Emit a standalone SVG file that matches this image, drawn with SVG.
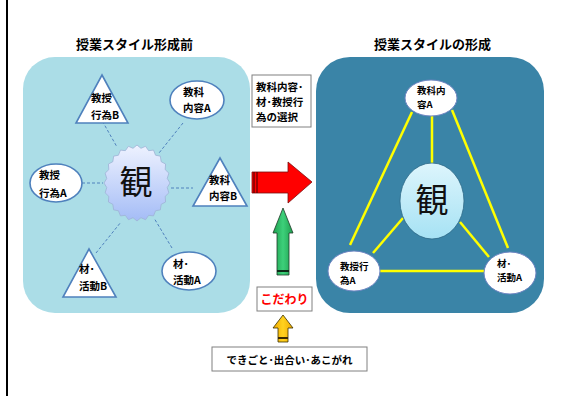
<svg xmlns="http://www.w3.org/2000/svg" width="569" height="396" viewBox="0 0 569 396">
<defs>
<style>
.lbl{font-family:"Noto Sans CJK JP","Noto Sans CJK SC",sans-serif;font-weight:bold;font-size:10.5px;fill:#000}
.lblr{font-family:"Noto Sans CJK JP","Noto Sans CJK SC",sans-serif;font-weight:bold;font-size:9.5px;fill:#000}
.ttl{font-family:"Noto Sans CJK JP","Noto Sans CJK SC",sans-serif;font-weight:bold;font-size:13px;fill:#000;text-anchor:middle}
.kan{font-family:"Noto Sans CJK JP","Noto Sans CJK SC",sans-serif;font-size:33px;fill:#111;text-anchor:middle}
.shp{fill:#fff;stroke:#4F81BD;stroke-width:1.6}
.shpr{fill:#fff;stroke:#6A82C0;stroke-width:1}
.dash{stroke:#4F81BD;stroke-width:1;stroke-dasharray:3 2;fill:none}
.yl{stroke:#FFFF00;stroke-width:2.5;fill:none}
.box{fill:#fff;stroke:#808080;stroke-width:1}
</style>
<linearGradient id="gStar" x1="0" y1="0" x2="0" y2="1">
<stop offset="0" stop-color="#EEF2FF"/>
<stop offset="1" stop-color="#A4BCF6"/>
</linearGradient>
<linearGradient id="gCen" x1="0" y1="0" x2="0" y2="1">
<stop offset="0" stop-color="#DDF5FC"/>
<stop offset="1" stop-color="#A6E2F4"/>
</linearGradient>
<linearGradient id="gGreen" x1="0" y1="0" x2="1" y2="0">
<stop offset="0" stop-color="#1E9E4E"/>
<stop offset="0.5" stop-color="#3DD07A"/>
<stop offset="1" stop-color="#1E9E4E"/>
</linearGradient>
<linearGradient id="gYel" x1="0" y1="0" x2="1" y2="0">
<stop offset="0" stop-color="#F0A800"/>
<stop offset="0.5" stop-color="#FFD21F"/>
<stop offset="1" stop-color="#F0A800"/>
</linearGradient>
</defs>

<rect x="0" y="0" width="569" height="396" fill="#fff"/>
<line x1="7" y1="0" x2="7" y2="396" stroke="#000" stroke-width="2"/>

<g id="title-left"><text class="ttl" x="134.5" y="49">授業スタイル形成前</text></g>
<g id="title-right"><text class="ttl" x="432.5" y="49">授業スタイルの形成</text></g>

<g id="panel-left"><rect x="23" y="57" width="227" height="256" rx="32" fill="#ABDDE7"/></g>
<g id="panel-right"><rect x="316" y="57" width="228" height="256" rx="34" fill="#3A84A7"/></g>

<g id="connectors">
<line class="dash" x1="100" y1="117" x2="117" y2="147"/>
<line class="dash" x1="183" y1="123" x2="159" y2="153"/>
<line class="dash" x1="77" y1="183" x2="103" y2="183"/>
<line class="dash" x1="171" y1="188" x2="193" y2="188"/>
<line class="dash" x1="96" y1="253" x2="121" y2="222"/>
<line class="dash" x1="172" y1="248" x2="154" y2="218"/>
<line class="yl" x1="432" y1="115" x2="432" y2="163" stroke-width="3"/>
<line class="yl" x1="412" y1="112" x2="350" y2="245"/>
<line class="yl" x1="452" y1="110" x2="508" y2="248"/>
<line class="yl" x1="403" y1="218" x2="373" y2="253"/>
<line class="yl" x1="460" y1="222" x2="489" y2="257"/>
<line class="yl" x1="380" y1="271" x2="485" y2="271"/>
</g>

<g id="kan-left">
<path transform="translate(137,183)" fill="url(#gStar)" stroke="#9EB2D6" stroke-width="0.8" d="M33,0 L30.24,4.57 L31.87,9.83 L28.18,13.39 L28.58,19 L24.2,21.31 L23.33,26.87 L18.57,27.77 L16.5,32.91 L11.67,32.34 L8.54,36.7 L3.98,34.7 L0,38 L-3.98,34.7 L-8.54,36.7 L-11.67,32.34 L-16.5,32.91 L-18.57,27.77 L-23.33,26.87 L-24.2,21.31 L-28.58,19 L-28.18,13.39 L-31.87,9.83 L-30.24,4.57 L-33,0 L-30.24,-4.57 L-31.87,-9.83 L-28.18,-13.39 L-28.58,-19 L-24.2,-21.31 L-23.33,-26.87 L-18.57,-27.77 L-16.5,-32.91 L-11.67,-32.34 L-8.54,-36.7 L-3.98,-34.7 L0,-38 L3.98,-34.7 L8.54,-36.7 L11.67,-32.34 L16.5,-32.91 L18.57,-27.77 L23.33,-26.87 L24.2,-21.31 L28.58,-19 L28.18,-13.39 L31.87,-9.83 L30.24,-4.57 Z"/>
<text class="kan" x="136" y="194">観</text>
</g>

<g id="node-jugyo-b">
<polygon class="shp" points="102,75 128,123 76,123"/>
<text class="lbl" x="91" y="102">教授</text>
<text class="lbl" x="91" y="119">行為B</text>
</g>
<g id="node-kyoka-a">
<ellipse class="shp" cx="197" cy="100" rx="27" ry="19"/>
<text class="lbl" x="183" y="96">教科</text>
<text class="lbl" x="183" y="112">内容A</text>
</g>
<g id="node-jugyo-a">
<ellipse class="shp" cx="56" cy="183" rx="26" ry="19"/>
<text class="lbl" x="39" y="179">教授</text>
<text class="lbl" x="39" y="197">行為A</text>
</g>
<g id="node-kyoka-b">
<polygon class="shp" points="220,158 247,206 193,206"/>
<text class="lbl" x="209" y="184">教科</text>
<text class="lbl" x="209" y="200">内容B</text>
</g>
<g id="node-zai-b">
<polygon class="shp" points="89,249 116,297 63,297"/>
<text class="lbl" x="79" y="273">材･</text>
<text class="lbl" x="79" y="290">活動B</text>
</g>
<g id="node-zai-a">
<ellipse class="shp" cx="189" cy="271" rx="27" ry="19"/>
<text class="lbl" x="173" y="268">材･</text>
<text class="lbl" x="173" y="284">活動A</text>
</g>

<g id="box-select">
<rect class="box" x="252" y="75" width="59" height="52"/>
<text class="lbl" x="256" y="91" font-size="10">教科内容･</text>
<text class="lbl" x="256" y="106" font-size="10">材･教授行</text>
<text class="lbl" x="256" y="121" font-size="10">為の選択</text>
</g>

<g id="arrow-red">
<polygon points="252,172 288,172 288,162 312,182 288,203 288,193 252,193" fill="#FF0000" stroke="#7A1010" stroke-width="0.8"/>
<line x1="254" y1="172" x2="254" y2="193" stroke="#400000" stroke-width="1"/>
<line x1="257" y1="172" x2="257" y2="193" stroke="#400000" stroke-width="1"/>
</g>

<g id="arrow-green">
<polygon points="283,208 293,233 289,233 289,275 277,275 277,233 273,233" fill="url(#gGreen)" stroke="#1F3A28" stroke-width="0.8"/>
<rect x="277" y="270" width="12" height="2" fill="#0D2A18"/>
</g>

<g id="box-kodawari">
<rect class="box" x="257" y="287" width="55" height="24"/>
<text x="284.5" y="304" text-anchor="middle" font-family="Noto Sans CJK JP, sans-serif" font-weight="bold" font-size="12" fill="#FF0000">こだわり</text>
</g>

<g id="arrow-yellow">
<polygon points="283,315 293,328 288,328 288,342 278,342 278,328 273,328" fill="url(#gYel)" stroke="#3A3000" stroke-width="0.8"/>
<rect x="278" y="337" width="10" height="2" fill="#3A2A00"/>
</g>

<g id="box-dekigoto">
<rect class="box" x="212" y="347" width="155" height="24"/>
<text class="lbl" x="289.5" y="364" text-anchor="middle" font-size="10.5">できごと･出合い･あこがれ</text>
</g>

<g id="kan-right">
<ellipse cx="432" cy="201" rx="32" ry="38" fill="url(#gCen)" stroke="#2E6A88" stroke-width="0.8"/>
<text class="kan" x="432" y="212">観</text>
</g>
<g id="node-r-kyoka">
<ellipse class="shpr" cx="431" cy="98" rx="26" ry="18"/>
<text class="lblr" x="417" y="94">教科内</text>
<text class="lblr" x="417" y="108">容A</text>
</g>
<g id="node-r-jugyo">
<ellipse class="shpr" cx="354" cy="271" rx="26" ry="20"/>
<text class="lblr" x="340" y="270">教授行</text>
<text class="lblr" x="340" y="284">為A</text>
</g>
<g id="node-r-zai">
<ellipse class="shpr" cx="510" cy="273" rx="26" ry="21"/>
<text class="lblr" x="497" y="267">材･</text>
<text class="lblr" x="497" y="281">活動A</text>
</g>
</svg>
